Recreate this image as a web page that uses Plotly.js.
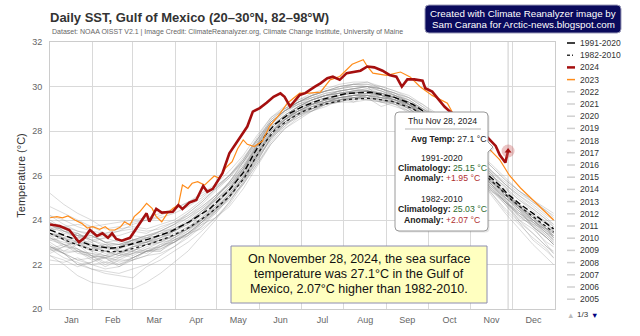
<!DOCTYPE html>
<html><head><meta charset="utf-8">
<script src="https://cdn.plot.ly/plotly-3.0.1.min.js"></script>
<style>html,body{margin:0;padding:0;background:#fff}#chart{width:640px;height:336px}</style>
</head><body><div id="chart"></div>
<script>
// ---------- DATA ----------
const days2024 = [0,7,14,21,25,29,34,38,42,45,48,52,58,65,70,72,77,81,89,93,96,101,106,111,114,118,122,125,130,138,143,147,152,157,162,167,170,174,178,181,185,188,192,196,201,205,210,215,220,225,230,235,241,246,251,255,259,264,270,272,277,281,286,290,296,302,307,312,317,323,326,330,331,332];
const sst2024 = [23.8,23.73,23.55,23.0,23.2,23.55,23.28,23.4,23.2,23.4,23.15,23.07,23.2,23.87,24.3,23.93,24.5,24.33,24.37,24.67,24.5,24.78,24.9,25.53,25.27,25.4,25.8,26.1,27.0,27.75,28.2,28.87,29.03,29.27,29.54,29.69,29.54,29.1,29.4,29.62,29.7,29.84,29.99,30.14,30.37,30.44,30.3,30.6,30.67,30.71,30.9,30.86,30.71,30.52,30.44,29.99,30.32,30.32,30.26,29.92,29.77,29.47,29.09,28.87,28.6,28.35,28.15,27.95,27.72,27.33,26.92,26.58,26.85,27.1];

const days2023 = [0,5,9,13,18,23,27,31,36,40,43,47,51,54,58,61,65,70,74,77,81,85,89,93,96,100,103,107,112,116,119,123,127,132,136,140,143,148,154,159,167,172,181,188,196,203,210,219,227,230,234,244,254,261,268,277,288,292,299,306,313,319,326,333,341,350,357,362,365];
const sst2023 = [24.1,24.15,24.1,24.18,24.0,23.85,23.64,23.7,23.58,23.7,23.55,23.55,23.68,23.92,23.77,24.15,24.37,24.75,24.52,24.15,23.92,24.3,24.52,24.67,25.57,25.42,25.65,25.72,25.57,25.8,25.98,25.87,26.32,26.62,27.2,27.6,27.4,27.3,27.55,28.2,28.8,29.25,29.7,29.7,29.75,30.3,30.45,31.0,31.2,30.9,30.6,30.5,30.65,30.43,30.0,29.6,29.25,28.8,28.3,27.8,27.4,27.15,26.7,26.0,25.44,24.9,24.45,24.15,24.0];

const climDays = [0,14,29,43,51,58,72,87,101,116,130,141,148,156,163,174,183,196,215,232,248,263,274,288,304,317,326,332,341,350,360,365];
const clim1991_2020 = [23.55,23.22,22.88,22.73,22.78,22.9,23.15,23.47,23.92,24.52,25.35,26.2,27.0,27.8,28.3,28.8,29.1,29.4,29.69,29.74,29.55,29.2,28.75,27.95,26.95,26.05,25.55,25.15,24.7,24.3,23.85,23.6];
const clim1982_2010 = [23.4,23.02,22.68,22.58,22.58,22.68,22.92,23.25,23.67,24.3,25.05,25.9,26.7,27.5,28.05,28.55,28.87,29.17,29.42,29.47,29.33,29.0,28.55,27.8,26.8,25.92,25.42,25.03,24.58,24.15,23.7,23.45];

const grayDays = [0,10,20,30,40,50,60,70,80,90,100,110,120,130,140,150,160,170,180,190,200,210,220,230,240,250,260,270,280,290,300,310,320,330,340,350,360,365];
const y1982 = [23.2,22.8,22.7,22.3,21.9,22.2,22.2,22.6,22.6,23.1,23.3,23.8,24.1,24.8,25.7,26.6,27.7,28.2,28.8,28.9,29.3,29.4,29.4,29.7,29.5,29.2,29.1,28.5,28.4,27.6,26.7,26.4,25.3,24.9,24.1,23.8,23.6,23.2];
const y1983 = [22.8,22.5,22.0,21.8,21.6,21.5,21.4,21.9,22.2,22.6,23.0,23.5,24.1,24.7,25.6,26.5,27.5,28.2,28.7,29.0,29.2,29.4,29.5,29.4,29.3,29.3,29.0,28.6,28.1,27.6,26.9,26.3,25.6,24.8,24.0,23.6,23.0,22.8];
const y1984 = [23.0,22.6,22.9,22.4,22.0,22.3,22.6,22.5,22.9,23.0,23.4,23.9,24.5,25.0,25.9,26.8,27.6,28.3,28.6,29.0,29.2,29.3,29.5,29.5,29.4,29.2,29.1,28.8,28.3,27.8,27.4,26.5,26.0,25.5,24.6,24.0,23.4,23.3];
const y1985 = [23.7,23.1,22.6,22.2,22.3,21.9,22.2,22.4,22.8,23.2,23.6,23.9,24.3,25.0,25.8,26.9,27.8,28.3,28.7,28.9,29.1,29.4,29.4,29.6,29.3,29.2,28.9,28.7,28.0,27.4,27.0,26.6,26.1,25.0,24.4,23.7,23.2,22.9];
const y1986 = [22.6,22.8,23.0,22.7,22.9,22.5,22.8,22.9,23.1,23.2,23.5,24.1,24.6,25.1,25.8,26.6,27.7,28.4,28.8,29.2,29.4,29.5,29.6,29.7,29.6,29.3,29.2,28.7,28.2,27.7,27.0,26.3,25.7,25.2,24.7,24.2,23.6,23.3];
const y1987 = [23.4,23.2,23.4,23.0,22.6,22.4,22.5,22.7,22.8,23.0,23.4,23.8,24.4,24.9,25.6,26.7,27.6,28.3,28.9,29.0,29.3,29.5,29.3,29.6,29.5,29.5,29.2,28.8,28.3,27.6,26.8,26.2,25.7,25.0,24.5,24.1,23.7,23.4];
const y1988 = [23.3,22.9,22.5,22.4,22.1,22.0,22.3,22.6,22.6,23.0,23.3,23.7,24.3,25.0,25.6,26.5,27.4,28.1,28.6,28.9,29.2,29.3,29.5,29.4,29.5,29.3,28.9,28.4,28.0,27.5,26.9,26.1,25.4,24.8,24.2,23.9,23.4,23.1];
const y1989 = [23.6,23.5,23.2,23.3,23.0,22.6,22.4,22.7,23.0,23.3,23.6,24.0,24.5,25.2,25.9,26.8,27.7,28.4,28.8,29.0,29.3,29.4,29.6,29.5,29.4,29.3,29.0,28.6,28.2,27.7,26.9,26.0,25.4,24.7,23.9,23.1,22.6,22.3];
const y1990 = [22.5,22.8,23.1,23.0,23.2,23.0,23.3,23.2,23.5,23.6,23.9,24.3,24.9,25.4,26.2,27.0,27.9,28.5,29.0,29.2,29.4,29.5,29.6,29.7,29.6,29.5,29.2,28.9,28.5,28.0,27.3,26.7,26.0,25.4,24.9,24.5,24.0,23.8];
const y1991 = [23.9,23.5,23.4,23.1,22.9,22.9,23.1,23.3,23.4,23.6,23.9,24.4,24.9,25.4,26.2,27.1,28.0,28.5,28.9,29.2,29.3,29.5,29.5,29.6,29.6,29.4,29.2,28.7,28.3,27.8,27.1,26.4,25.7,25.2,24.6,24.0,23.5,23.3];
const y1992 = [23.4,23.3,23.0,22.9,22.7,22.8,23.0,23.0,23.3,23.3,23.6,24.0,24.4,25.0,25.8,26.7,27.7,28.3,28.7,29.0,29.2,29.4,29.5,29.5,29.3,29.4,29.1,28.8,28.4,27.9,27.3,26.6,25.8,25.1,24.7,24.1,23.6,23.2];
const y1993 = [23.1,22.9,22.6,22.5,22.4,22.5,22.3,22.6,22.8,23.1,23.4,23.9,24.4,25.1,25.9,26.9,27.8,28.5,29.0,29.3,29.5,29.6,29.7,29.8,29.6,29.4,29.1,28.8,28.3,27.8,27.1,26.3,25.6,25.0,24.4,23.8,23.2,22.9];
const y1994 = [22.7,22.5,22.6,22.3,22.6,22.8,23.1,23.3,23.5,23.8,24.1,24.5,25.0,25.6,26.3,27.2,28.0,28.5,28.8,29.1,29.3,29.5,29.6,29.6,29.5,29.4,29.2,28.9,28.6,28.2,27.6,27.0,26.4,25.8,25.3,24.9,24.4,24.2];
const y1995 = [24.2,23.8,23.5,23.4,23.0,22.9,23.1,23.0,23.2,23.5,23.9,24.3,24.9,25.5,26.3,27.3,28.1,28.7,29.1,29.4,29.6,29.8,29.9,30.0,29.9,29.7,29.3,29.0,28.4,27.9,27.3,26.5,25.8,25.2,24.6,24.0,23.5,23.2];
const y1996 = [23.2,22.9,22.7,22.4,22.3,22.0,22.2,22.4,22.5,22.8,23.2,23.7,24.4,25.1,25.9,26.9,27.9,28.5,28.9,29.2,29.4,29.5,29.6,29.6,29.4,29.3,29.0,28.6,28.2,27.6,26.9,26.2,25.6,25.0,24.5,23.9,23.4,23.1];
const y1997 = [23.3,23.2,23.0,22.6,22.8,22.6,22.6,22.9,23.0,23.1,23.4,23.6,24.1,24.6,25.4,26.4,27.4,28.1,28.5,28.9,29.2,29.3,29.3,29.4,29.3,29.1,28.9,28.5,28.0,27.5,26.8,26.0,25.2,24.5,23.9,23.4,22.8,22.6];
const y1998 = [22.8,22.6,22.6,22.5,22.3,22.5,22.7,22.6,22.9,23.2,23.6,24.3,25.0,25.7,26.6,27.6,28.4,28.9,29.3,29.5,29.7,29.8,29.9,30.0,29.8,29.6,29.4,29.0,28.7,28.2,27.6,27.0,26.5,25.9,25.3,24.8,24.4,24.1];
const y1999 = [24.0,23.6,23.4,23.1,23.2,23.3,23.5,23.4,23.7,23.9,24.2,24.6,25.1,25.7,26.4,27.3,28.1,28.6,28.9,29.2,29.4,29.6,29.7,29.8,29.6,29.5,29.1,28.7,28.2,27.7,27.0,26.4,25.8,25.2,24.7,24.3,23.8,23.5];
const y2000 = [23.4,23.1,23.2,22.9,22.8,22.7,23.0,23.2,23.3,23.6,24.0,24.5,25.1,25.6,26.4,27.3,28.2,28.7,29.1,29.3,29.5,29.7,29.7,29.8,29.7,29.5,29.2,28.7,28.2,27.5,26.7,26.0,25.2,24.4,23.8,23.2,22.7,22.3];
const y2001 = [22.4,22.2,21.9,22.1,22.3,22.2,22.5,22.6,22.8,23.1,23.5,24.0,24.6,25.2,26.0,27.0,27.9,28.5,28.9,29.2,29.3,29.5,29.6,29.6,29.5,29.4,29.2,28.9,28.5,28.0,27.4,26.8,26.2,25.6,25.1,24.6,24.1,23.8];
const y2002 = [23.8,23.4,23.3,22.8,22.9,22.6,22.8,22.9,23.1,23.5,23.9,24.4,24.9,25.5,26.3,27.1,28.0,28.6,28.9,29.1,29.3,29.5,29.6,29.7,29.6,29.5,29.3,28.6,28.2,27.8,27.0,26.3,25.5,24.8,24.2,23.7,23.2,22.9];
const y2003 = [22.9,22.5,22.2,22.0,21.8,21.9,22.3,22.6,22.7,23.0,23.4,23.9,24.5,25.2,26.0,27.0,27.9,28.5,28.9,29.2,29.4,29.6,29.7,29.8,29.7,29.6,29.3,28.9,28.5,27.9,27.3,26.6,25.8,25.1,24.6,24.1,23.6,23.3];
const y2004 = [23.2,23.0,22.9,22.7,22.5,22.6,22.6,22.9,23.1,23.3,23.6,24.1,24.7,25.3,26.1,27.1,27.9,28.5,28.9,29.2,29.4,29.5,29.6,29.6,29.4,29.2,28.8,28.5,28.1,27.7,27.1,26.5,25.8,25.2,24.5,23.9,23.3,23.0];
const y2005 = [23.1,23.2,22.9,22.7,22.8,22.9,23.1,23.1,23.3,23.6,23.9,24.3,24.8,25.4,26.2,27.3,28.3,28.9,29.3,29.6,29.8,29.9,30.1,30.0,29.4,29.6,29.2,28.6,28.1,27.5,26.8,26.0,25.3,24.7,24.0,23.4,22.8,22.5];
const y2006 = [22.7,22.9,23.0,22.8,22.6,22.8,23.1,23.3,23.5,23.8,24.3,24.8,25.4,25.9,26.6,27.5,28.3,28.8,29.2,29.4,29.6,29.7,29.7,29.8,29.6,29.4,29.1,28.8,28.3,27.7,27.0,26.3,25.7,25.1,24.6,24.1,23.6,23.4];
const y2007 = [23.4,23.2,22.7,22.4,22.3,22.5,22.8,23.0,23.3,23.5,23.8,24.2,24.7,25.3,26.1,27.0,27.9,28.6,29.0,29.3,29.5,29.6,29.8,29.8,29.7,29.5,29.2,28.9,28.5,28.0,27.4,26.7,26.1,25.6,25.1,24.7,24.2,24.0];
const y2008 = [23.9,23.5,23.3,23.3,23.0,23.1,22.9,23.0,23.2,23.4,23.7,24.0,24.5,25.1,25.9,26.9,27.8,28.4,28.8,29.1,29.3,29.4,29.5,29.5,29.1,29.3,29.1,28.7,28.3,27.7,27.0,26.3,25.6,24.9,24.3,23.8,23.3,23.0];
const y2009 = [22.8,22.5,22.2,22.3,22.4,22.1,22.3,22.6,22.7,23.0,23.4,24.0,24.7,25.4,26.3,27.4,28.4,28.9,29.2,29.4,29.6,29.7,29.8,29.8,29.7,29.5,29.3,29.0,28.6,28.1,27.5,26.8,26.1,25.2,24.5,23.7,22.9,22.5];
const y2010 = [22.4,22.0,21.5,21.2,21.1,21.0,20.9,21.2,21.6,22.1,22.6,23.3,24.0,24.8,25.7,26.8,27.9,28.6,29.1,29.4,29.6,29.8,29.9,30.0,29.9,29.6,29.3,28.8,28.3,27.6,26.8,26.0,25.1,24.3,23.6,22.9,22.3,22.0];
const y2011 = [22.2,22.1,22.3,22.0,22.1,22.4,22.8,23.0,23.4,23.7,24.1,24.6,25.1,25.6,26.4,27.4,28.4,28.9,29.3,29.5,29.7,29.8,29.9,29.8,29.6,29.4,29.0,28.5,28.0,27.4,26.7,26.0,25.5,25.0,24.6,24.2,23.8,23.6];
const y2012 = [24.6,24.3,24.0,23.7,23.4,23.5,23.8,24.0,24.2,24.5,24.8,25.1,25.5,26.0,26.6,27.4,28.2,28.7,29.1,29.4,29.6,29.7,29.8,29.9,29.7,29.5,29.2,28.8,28.3,27.6,26.8,26.0,25.3,24.8,24.4,24.0,23.6,23.4];
const y2013 = [23.5,23.7,23.5,23.3,23.0,22.9,22.9,23.0,23.1,23.3,23.6,24.0,24.5,25.1,25.9,26.9,27.8,28.4,28.8,29.1,29.3,29.4,29.5,29.6,29.5,29.4,29.2,28.8,28.3,27.7,27.0,26.3,25.6,24.9,24.2,23.7,23.2,22.9];
const y2014 = [22.7,22.3,22.1,21.8,21.7,21.6,21.8,22.0,22.4,22.8,23.3,23.9,24.6,25.4,26.3,27.3,28.2,28.7,29.1,29.4,29.6,29.7,29.8,29.9,29.8,29.6,29.3,28.9,28.4,27.8,27.0,26.2,25.4,24.8,24.3,23.9,23.6,23.5];
const y2015 = [23.4,23.3,23.1,22.8,22.6,22.4,22.6,22.9,23.2,23.5,23.9,24.4,25.0,25.7,26.5,27.4,28.3,28.9,29.3,29.6,29.8,29.9,30.0,30.0,29.9,29.7,29.5,29.1,28.7,28.2,27.6,27.0,26.4,25.8,25.3,24.9,24.5,24.3];
const y2016 = [24.2,24.0,23.7,23.5,23.4,23.6,23.7,23.6,23.8,24.0,24.4,24.9,25.4,26.0,26.7,27.6,28.5,29.0,29.3,29.6,29.8,30.0,30.1,30.1,29.9,29.7,29.4,29.0,28.6,28.1,27.5,26.9,26.2,25.6,25.0,24.5,24.0,23.7];
const y2017 = [25.2,24.7,24.3,24.0,23.6,23.7,23.9,24.0,24.1,24.3,24.6,25.0,25.5,26.0,26.7,27.6,28.5,29.0,29.3,29.6,29.8,30.0,30.1,30.2,29.9,29.6,29.4,29.0,28.6,28.0,27.2,26.5,25.7,25.2,24.6,24.0,23.4,23.1];
const y2018 = [22.8,22.5,22.0,22.1,22.4,22.7,23.1,23.2,23.3,23.5,23.8,24.3,25.0,25.7,26.6,27.5,28.4,28.9,29.2,29.5,29.6,29.8,29.9,30.0,29.9,29.7,29.5,29.2,28.8,28.3,27.5,26.7,25.9,25.2,24.6,24.2,23.9,23.7];
const y2019 = [23.7,23.6,23.3,23.2,23.3,23.5,23.6,23.5,23.6,23.9,24.3,24.8,25.4,26.0,26.8,27.6,28.4,28.9,29.3,29.6,29.8,30.0,30.1,30.1,30.0,29.8,29.6,29.2,28.7,28.0,27.2,26.3,25.5,24.8,24.3,24.0,23.7,23.5];
const y2020 = [23.6,23.7,23.8,23.7,23.8,23.9,24.0,24.1,24.3,24.5,24.8,25.2,25.6,26.2,26.9,27.8,28.6,29.0,29.4,29.7,29.9,30.1,30.2,30.2,30.0,29.8,29.5,29.1,28.6,28.0,27.3,26.7,26.0,25.5,24.9,24.4,23.9,23.5];
const y2021 = [23.4,23.1,22.9,22.6,22.4,22.3,22.5,22.8,23.0,23.3,23.7,24.1,24.7,25.3,26.2,27.2,28.1,28.7,29.1,29.4,29.6,29.7,29.8,29.8,29.7,29.5,29.3,28.9,28.5,28.0,27.4,26.8,26.2,25.7,25.2,24.8,24.3,24.0];
const y2022 = [23.8,23.5,23.3,23.1,22.8,22.7,22.9,23.2,23.5,23.8,24.2,24.7,25.3,25.9,26.7,27.7,28.6,29.1,29.4,29.6,29.8,29.9,30.0,30.0,29.8,29.5,29.2,28.7,28.2,27.6,26.9,26.2,25.6,25.1,24.5,24.0,23.5,23.2];

const grayYearNames = [1982,1983,1984,1985,1986,1987,1988,1989,1990,1991,1992,1993,1994,1995,1996,1997,1998,1999,2000,2001,2002,2003,2004,2005,2006,2007,2008,2009,2010,2011,2012,2013,2014,2015,2016,2017,2018,2019,2020,2021,2022];
const grayYearValues = [y1982,y1983,y1984,y1985,y1986,y1987,y1988,y1989,y1990,y1991,y1992,y1993,y1994,y1995,y1996,y1997,y1998,y1999,y2000,y2001,y2002,y2003,y2004,y2005,y2006,y2007,y2008,y2009,y2010,y2011,y2012,y2013,y2014,y2015,y2016,y2017,y2018,y2019,y2020,y2021,y2022];

const seriesNames = ['1991-2020','1982-2010','2024','2023'];
const yTicks = [20,22,24,26,28,30,32];
const titleText = 'Daily SST, Gulf of Mexico (20–30°N, 82–98°W)';
const subtitleText = 'Dataset: NOAA OISST V2.1 | Image Credit: ClimateReanalyzer.org, Climate Change Institute, University of Maine';
const creditLines = ['Created with Climate Reanalyzer image by','Sam Carana for Arctic-news.blogspot.com'];
const pageText = '1/3';

// ---------- helpers ----------
const FONT = 'Liberation Sans, Arial, Helvetica, sans-serif';
const L = 50, R = 555, T = 42, B = 309;
const X = px => (px - L) / (R - L);
const Y = py => (B - py) / (B - T);
const dayToDate = d => new Date(Date.UTC(2024, 0, 1) + d * 86400000).toISOString().slice(0, 10);
const fmtDate = d => {
  const t = new Date(Date.UTC(2024, 0, 1) + d * 86400000);
  const wd = ['Sun','Mon','Tue','Wed','Thu','Fri','Sat'][t.getUTCDay()];
  const mo = ['Jan','Feb','Mar','Apr','May','Jun','Jul','Aug','Sep','Oct','Nov','Dec'][t.getUTCMonth()];
  return wd + ' ' + mo + ' ' + t.getUTCDate() + ', ' + t.getUTCFullYear();
};
function roundPath(x0, y0, x1, y1, r, notch) {
  const p = (a, b) => X(a) + ',' + Y(b);
  let s = 'M ' + p(x0 + r, y0) + ' L ' + p(x1 - r, y0) + ' Q ' + p(x1, y0) + ' ' + p(x1, y0 + r);
  if (notch) s += ' L ' + p(x1, notch - 5) + ' L ' + p(x1 + 5, notch) + ' L ' + p(x1, notch + 5);
  s += ' L ' + p(x1, y1 - r) + ' Q ' + p(x1, y1) + ' ' + p(x1 - r, y1) +
       ' L ' + p(x0 + r, y1) + ' Q ' + p(x0, y1) + ' ' + p(x0, y1 - r) +
       ' L ' + p(x0, y0 + r) + ' Q ' + p(x0, y0) + ' ' + p(x0 + r, y0) + ' Z';
  return s;
}

// ---------- traces ----------
const traces = [];
const grayX = grayDays.map(dayToDate);
grayYearValues.forEach((vals, i) => {
  traces.push({x: grayX, y: vals, name: String(grayYearNames[i]), mode: 'lines',
    line: {color: 'rgba(140,140,140,0.36)', width: 0.9}, hoverinfo: 'skip'});
});
const climX = climDays.map(dayToDate);
traces.push({x: climX, y: clim1982_2010, name: seriesNames[1], mode: 'lines',
  line: {color: '#1a1a1a', width: 1.3, dash: '3px,3px'}});
traces.push({x: climX, y: clim1991_2020, name: seriesNames[0], mode: 'lines',
  line: {color: '#000000', width: 1.4, dash: '6px,3px'}});
traces.push({x: days2023.map(dayToDate), y: sst2023, name: seriesNames[3], mode: 'lines',
  line: {color: '#ff8c1a', width: 1.2}});
traces.push({x: days2024.map(dayToDate), y: sst2024, name: seriesNames[2], mode: 'lines',
  line: {color: '#a50f0f', width: 2.6}});

const lastDay = days2024[days2024.length - 1];
const lastVal = sst2024[sst2024.length - 1];
const c91 = clim1991_2020[climDays.indexOf(lastDay)];
const c82 = clim1982_2010[climDays.indexOf(lastDay)];
const an91 = lastVal - c91, an82 = lastVal - c82;
traces.push({x: [dayToDate(lastDay)], y: [lastVal], mode: 'markers',
  marker: {size: 13, color: 'rgba(200,90,90,0.35)'}});
traces.push({x: [dayToDate(lastDay)], y: [lastVal], mode: 'markers',
  marker: {size: 6, symbol: 'triangle-up', color: '#a50f0f'}});

// ---------- shapes & annotations ----------
const shapes = [];
const ann = [];
shapes.push({type: 'line', xref: 'x', yref: 'paper', x0: dayToDate(lastDay), x1: dayToDate(lastDay),
  y0: 0, y1: 1, line: {color: '#cccccc', width: 1}, layer: 'below'});

// subtitle
ann.push({xref: 'paper', yref: 'paper', x: X(50), y: Y(31.5), xanchor: 'left', yanchor: 'middle',
  text: subtitleText, showarrow: false, font: {family: FONT, size: 7, color: '#666'}});

// credit box
shapes.push({type: 'path', xref: 'paper', yref: 'paper', path: roundPath(425, 5, 621, 33, 4),
  fillcolor: '#0a0a5c', line: {color: '#9a9ab8', width: 1}, layer: 'above'});
creditLines.forEach((t, i) => ann.push({xref: 'paper', yref: 'paper', x: X(523), y: Y(13.5 + 11 * i),
  xanchor: 'center', yanchor: 'middle', text: t, showarrow: false,
  font: {family: FONT, size: 9.8, color: '#ffffff'}}));

// legend (custom, Highcharts-style paging)
const legendNames = seriesNames.concat(grayYearNames.slice().reverse().map(String)).slice(0, 22);
legendNames.forEach((nm, i) => {
  const yy = 43 + 12.2 * i;
  let ln = {color: '#d0d0d0', width: 1.5};
  if (nm === seriesNames[0]) ln = {color: '#000', width: 1.5};
  else if (nm === seriesNames[1]) ln = {color: '#333', width: 1.5, dash: '3px,2px,1px,2px'};
  else if (nm === seriesNames[2]) ln = {color: '#a50f0f', width: 2.5};
  else if (nm === seriesNames[3]) ln = {color: '#ff8c1a', width: 1.5};
  shapes.push({type: 'line', xref: 'paper', yref: 'paper', x0: X(567), x1: X(575), y0: Y(yy), y1: Y(yy), line: ln});
  ann.push({xref: 'paper', yref: 'paper', x: X(578), y: Y(yy), xanchor: 'left', yanchor: 'middle',
    text: nm, showarrow: false, font: {family: FONT, size: 8.5, color: '#333'}});
});
ann.push({xref: 'paper', yref: 'paper', x: X(570), y: Y(315), xanchor: 'center', yanchor: 'middle',
  text: '▲', showarrow: false, font: {family: FONT, size: 7.5, color: '#bbbbbb'}});
ann.push({xref: 'paper', yref: 'paper', x: X(575), y: Y(314.5), xanchor: 'left', yanchor: 'middle',
  text: pageText, showarrow: false, font: {family: FONT, size: 8, color: '#333'}});
ann.push({xref: 'paper', yref: 'paper', x: X(594), y: Y(315), xanchor: 'center', yanchor: 'middle',
  text: '▼', showarrow: false, font: {family: FONT, size: 7.5, color: '#000080'}});

// tooltip
shapes.push({type: 'path', xref: 'paper', yref: 'paper', path: roundPath(396.5, 113.5, 489.5, 232.5, 4, 148.5),
  fillcolor: 'rgba(0,0,0,0.10)', line: {width: 0}, layer: 'above'});
shapes.push({type: 'path', xref: 'paper', yref: 'paper', path: roundPath(395, 112, 488, 231, 4, 147),
  fillcolor: '#ffffff', line: {color: '#9a9a9a', width: 1}, layer: 'above'});
shapes.push({type: 'line', xref: 'paper', yref: 'paper', x0: X(405), x1: X(481), y0: Y(129), y1: Y(129),
  line: {color: '#cfcfcf', width: 1.5}, layer: 'above'});
const tipFont = {family: FONT, size: 8.7, color: '#222'};
const tip = (txt, yy) => ann.push({xref: 'paper', yref: 'paper', x: X(442), y: Y(yy), xanchor: 'center',
  yanchor: 'middle', text: txt, showarrow: false, font: tipFont});
const sgn = v => (v >= 0 ? '+' : '') + v.toFixed(2);
tip(fmtDate(lastDay), 121);
ann.push({xref: 'paper', yref: 'paper', x: X(448), y: Y(139), xanchor: 'center', yanchor: 'middle',
  text: '<b>Avg Temp:</b> ' + lastVal.toFixed(1) + ' °C', showarrow: false, font: tipFont});
tip(seriesNames[0], 157.5);
tip('<b>Climatology:</b> <span style="color:#2e6b2e">' + c91.toFixed(2) + ' °C</span>', 167.5);
tip('<b>Anomaly:</b> <span style="color:#b03030">' + sgn(an91) + ' °C</span>', 177.5);
tip(seriesNames[1], 199);
tip('<b>Climatology:</b> <span style="color:#2e6b2e">' + c82.toFixed(2) + ' °C</span>', 209);
tip('<b>Anomaly:</b> <span style="color:#b03030">' + sgn(an82) + ' °C</span>', 220);

// yellow note box
shapes.push({type: 'rect', xref: 'paper', yref: 'paper', x0: X(231), x1: X(487), y0: Y(303), y1: Y(246),
  fillcolor: '#ffffc0', line: {color: '#8c8cb0', width: 1}, layer: 'above'});
const dt = new Date(Date.UTC(2024, 0, 1) + lastDay * 86400000);
const longMonth = ['January','February','March','April','May','June','July','August','September','October','November','December'][dt.getUTCMonth()];
const noteLines = [
  'On ' + longMonth + ' ' + dt.getUTCDate() + ', ' + dt.getUTCFullYear() + ', the sea surface',
  'temperature was ' + lastVal.toFixed(1) + '°C in the Gulf of',
  'Mexico, ' + an82.toFixed(2) + '°C higher than ' + seriesNames[1] + '.'
];
noteLines.forEach((t, i) => ann.push({xref: 'paper', yref: 'paper', x: X(359), y: Y(259 + 15 * i),
  xanchor: 'center', yanchor: 'middle', text: t, showarrow: false,
  font: {family: FONT, size: 12.5, color: '#111'}}));

const layout = {
  width: 640, height: 336,
  margin: {l: L, r: 640 - R, t: T, b: 336 - B, pad: 0},
  paper_bgcolor: '#fff', plot_bgcolor: '#fff',
  showlegend: false, hovermode: false,
  font: {family: FONT, color: '#333'},
  title: {text: '<b>' + titleText + '</b>', xref: 'container', yref: 'container',
    x: 50 / 640, xanchor: 'left', y: 1 - 17 / 336, yanchor: 'middle',
    font: {family: FONT, size: 13, color: '#333'}},
  xaxis: {type: 'date', range: ['2024-01-01', '2025-01-01'], dtick: 'M1', tick0: '2024-01-01',
    tickformat: '%b', ticklabelmode: 'period', showgrid: true, gridcolor: '#d9d9d9', gridwidth: 1,
    showline: true, linecolor: '#cccccc', mirror: true, ticks: '', zeroline: false,
    tickfont: {family: FONT, size: 9, color: '#666'}, ticklabelstandoff: 2},
  yaxis: {range: [20, 32], tickvals: yTicks, showgrid: true, gridcolor: '#d9d9d9', gridwidth: 1,
    showline: true, linecolor: '#cccccc', mirror: true, ticks: '', zeroline: false,
    tickfont: {family: FONT, size: 9, color: '#666'}, ticklabelstandoff: 5,
    title: {text: 'Temperature (°C)', font: {family: FONT, size: 11, color: '#333'}, standoff: 4}},
  shapes: shapes, annotations: ann
};
Plotly.newPlot('chart', traces, layout, {staticPlot: true, displayModeBar: false});
</script></body></html>
